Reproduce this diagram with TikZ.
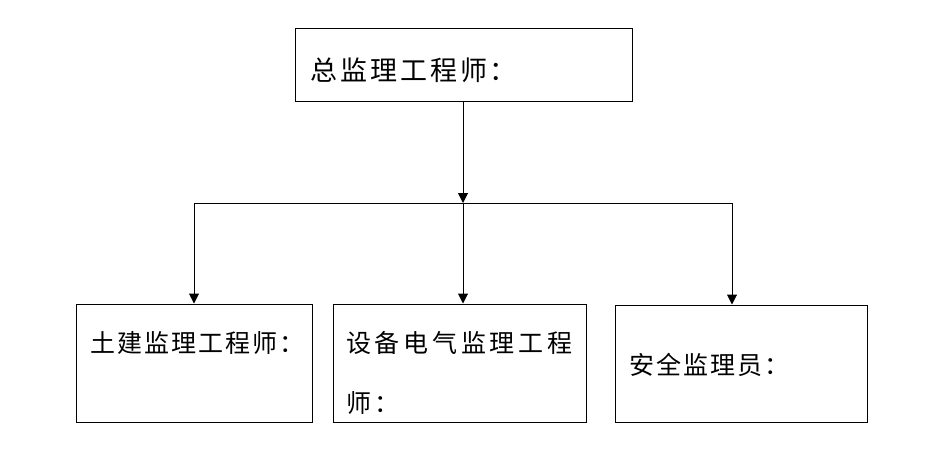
\documentclass[tikz,border=0pt]{standalone}
\usepackage{fontspec}
\newfontfamily\cjktop[LetterSpace=11]{Noto Sans CJK SC}
\newfontfamily\cjkbot[LetterSpace=8]{Noto Sans CJK SC}
\newfontfamily\cjkwide[LetterSpace=15]{Noto Sans CJK SC}
\usetikzlibrary{arrows.meta}
\begin{document}
\begin{tikzpicture}[x=1pt,y=-1pt,
  box/.style={draw,line width=1pt,inner sep=0pt},
  lbl/.style={anchor=west,inner sep=0pt},
  toptext/.style={lbl,font=\cjktop\fontsize{27}{30}\selectfont},
  bottext/.style={lbl,font=\cjkbot\fontsize{25}{30}\selectfont},
  widetext/.style={lbl,font=\cjkwide\fontsize{25}{30}\selectfont},
  conn/.style={line width=1pt},
  arr/.style={conn,-{Triangle[length=10pt,width=10pt]}}]
\useasboundingbox (0,0) rectangle (944,456);
% boxes
\node[box,minimum width=337pt,minimum height=73pt] (top) at (463.5,64.5) {};
\node[box,minimum width=236pt,minimum height=118pt] (b1) at (194,363) {};
\node[box,minimum width=253pt,minimum height=118pt] (b2) at (459.5,363) {};
\node[box,minimum width=252pt,minimum height=117pt] (b3) at (741,363.5) {};
% labels
\node[toptext] (t0) at (310,70) {总监理工程师：};
\node[bottext] (t1) at (90,343) {土建监理工程师：};
\node[widetext] (t2a) at (346,343) {设备电气监理工程};
\node[widetext] (t2b) at (346,403) {师：};
\node[bottext] (t3) at (629,365) {安全监理员：};
% connectors
\coordinate (jl) at (194,203);
\coordinate (jm) at (463,203);
\coordinate (jr) at (732,203);
\draw[arr] (top.south -| jm) -- (jm);
\draw[conn] (jl) -- (jr);
\draw[arr] (jl) -- (jl |- b1.north);
\draw[arr] (jm) -- (jm |- b2.north);
\draw[arr] (jr) -- (jr |- b3.north);
\end{tikzpicture}
\end{document}
